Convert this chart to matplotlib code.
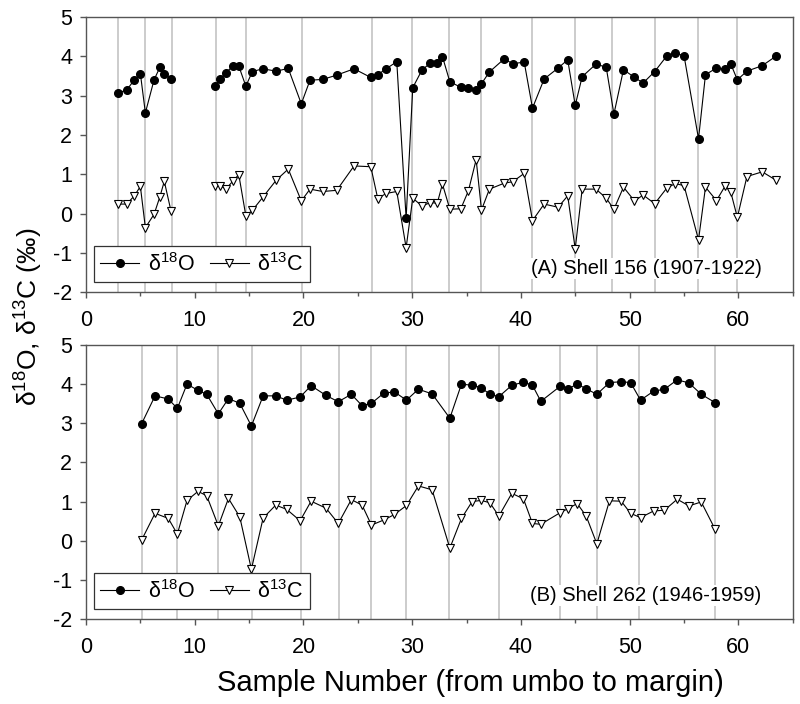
import numpy as np
import matplotlib
matplotlib.use("Agg")
import matplotlib.pyplot as plt

plt.rcParams['font.family'] = ['Liberation Sans', 'DejaVu Sans']
plt.rcParams['mathtext.fontset'] = 'custom'
plt.rcParams['mathtext.rm'] = 'Liberation Sans'
plt.rcParams['mathtext.it'] = 'Liberation Sans:italic'
plt.rcParams['mathtext.bf'] = 'Liberation Sans:bold'
plt.rcParams['axes.unicode_minus'] = False

nan = np.nan

# Shell 156 (panel A) - gap between samples 7.8 and 11.9
x156 = [2.97, 3.74, 4.45, 5.0, 5.46, 6.26, 6.8, 7.2, 7.82, nan,
        11.9, 12.33, 12.88, 13.5, 14.05, 14.7, 15.3, 16.25, 17.5, 18.6, 19.8,
        20.6, 21.77, 23.06, 24.65, 26.19, 26.83, 27.6, 28.58, 29.44, 30.05,
        30.9, 31.68, 32.3, 32.78, 33.46, 34.47, 35.17, 35.88, 36.37, 37.1,
        38.45, 39.25, 40.3, 41.06, 42.13, 43.42, 44.3, 44.99, 45.63, 46.9,
        47.84, 48.55, 49.43, 50.44, 51.24, 52.3, 53.42, 54.19, 55.0, 56.33,
        56.97, 57.98, 58.8, 59.3, 59.9, 60.78, 62.19, 63.5]
o18_156 = [3.07, 3.14, 3.40, 3.56, 2.56, 3.40, 3.72, 3.55, 3.42, nan,
           3.24, 3.42, 3.58, 3.75, 3.75, 3.24, 3.61, 3.68, 3.62, 3.69, 2.79,
           3.39, 3.41, 3.52, 3.68, 3.46, 3.53, 3.68, 3.86, -0.12, 3.20,
           3.65, 3.83, 3.83, 3.99, 3.35, 3.21, 3.19, 3.13, 3.30, 3.60,
           3.93, 3.81, 3.85, 2.68, 3.42, 3.70, 3.91, 2.75, 3.48, 3.80,
           3.72, 2.53, 3.66, 3.46, 3.32, 3.61, 4.01, 4.08, 4.01, 1.90,
           3.53, 3.70, 3.67, 3.80, 3.40, 3.62, 3.76, 4.01]
c13_156 = [0.24, 0.24, 0.45, 0.69, -0.36, -0.02, 0.43, 0.82, 0.06, nan,
           0.70, 0.70, 0.63, 0.82, 0.99, -0.06, 0.08, 0.41, 0.85, 1.13, 0.32,
           0.62, 0.56, 0.59, 1.21, 1.19, 0.38, 0.51, 0.56, -0.87, 0.39,
           0.19, 0.28, 0.26, 0.75, 0.11, 0.12, 0.58, 1.37, 0.09, 0.62,
           0.77, 0.81, 1.02, -0.18, 0.24, 0.16, 0.45, -0.90, 0.62, 0.62,
           0.39, 0.11, 0.67, 0.32, 0.47, 0.25, 0.65, 0.76, 0.71, -0.67,
           0.67, 0.33, 0.71, 0.54, -0.10, 0.94, 1.06, 0.84]
vlines156 = [2.97, 5.46, 7.88, 11.93, 14.72, 19.84, 26.34, 30.02, 33.42,
             36.34, 41.06, 45.0, 48.4, 52.3, 56.3, 59.9]

# Shell 262 (panel B)
x262 = [5.12, 6.35, 7.57, 8.4, 9.29, 10.3, 11.1, 12.17, 13.1, 14.14, 15.21,
        16.29, 17.45, 18.46, 19.69, 20.7, 22.08, 23.2, 24.4, 25.39, 26.25,
        27.39, 28.37, 29.47, 30.57, 31.83, 33.46, 34.53, 35.51, 36.34, 37.14,
        37.97, 39.16, 40.23, 41.06, 41.83, 43.63, 44.34, 45.17, 46.0, 46.98,
        48.14, 49.22, 50.08, 51.0, 52.2, 53.2, 54.37, 55.45, 56.58, 57.84]
o18_262 = [2.99, 3.70, 3.62, 3.38, 4.00, 3.84, 3.74, 3.24, 3.63, 3.51, 2.93,
           3.70, 3.70, 3.59, 3.67, 3.96, 3.71, 3.55, 3.74, 3.45, 3.51,
           3.77, 3.80, 3.59, 3.87, 3.75, 3.13, 4.00, 3.97, 3.91, 3.74,
           3.68, 3.97, 4.05, 3.97, 3.56, 3.95, 3.88, 4.00, 3.88, 3.74,
           4.04, 4.06, 4.04, 3.59, 3.82, 3.87, 4.11, 4.03, 3.74, 3.53]
c13_262 = [0.02, 0.70, 0.57, 0.17, 1.03, 1.26, 1.15, 0.38, 1.08, 0.61, -0.73,
           0.58, 0.91, 0.80, 0.51, 1.01, 0.83, 0.44, 1.05, 0.91, 0.40,
           0.53, 0.67, 0.90, 1.40, 1.30, -0.19, 0.57, 1.00, 1.03, 0.97,
           0.63, 1.21, 1.07, 0.44, 0.42, 0.72, 0.82, 0.95, 0.63, -0.08,
           1.02, 1.01, 0.70, 0.59, 0.76, 0.78, 1.06, 0.89, 0.99, 0.30]
vlines262 = [5.12, 8.40, 12.17, 15.24, 19.75, 23.28, 26.25, 29.47, 33.42,
             37.97, 43.63, 46.98, 50.90, 57.84]

panels = [
    (x156, o18_156, c13_156, vlines156, '(A) Shell 156 (1907-1922)'),
    (x262, o18_262, c13_262, vlines262, '(B) Shell 262 (1946-1959)'),
]

fig = plt.figure(figsize=(8, 7.04), dpi=100)
rects = [[0.1075, 0.585, 0.8835, 0.391], [0.1075, 0.1207, 0.8835, 0.3893]]
spine_col = '#555555'

for rect, (xs, o18, c13, vl, label) in zip(rects, panels):
    ax = fig.add_axes(rect)
    for v in vl:
        ax.axvline(v, color='#c4c4c4', lw=1.2, zorder=1)
    ax.plot(xs, o18, color='black', lw=0.8, marker='o', ms=5.5,
            mfc='black', mec='black', zorder=3, label='δ$^{18}$O')
    ax.plot(xs, c13, color='black', lw=0.8, marker='v', ms=6,
            mfc='white', mec='black', mew=0.8, zorder=3, label='δ$^{13}$C')
    ax.set_xlim(0, 65)
    ax.set_ylim(-2, 5)
    ax.set_xticks(np.arange(0, 61, 10))
    ax.set_xticks(np.arange(5, 66, 5), minor=True)
    ax.set_yticks(np.arange(-2, 6, 1))
    ax.tick_params(axis='both', which='both', direction='out', colors=spine_col,
                   labelcolor='black', labelsize=15.5, width=1)
    ax.tick_params(axis='both', which='major', length=4)
    ax.tick_params(axis='x', which='minor', length=3)
    ax.tick_params(axis='x', pad=9)
    ax.tick_params(axis='y', pad=6)
    for s in ax.spines.values():
        s.set_color(spine_col)
        s.set_linewidth(1)
    leg = ax.legend(loc='lower left', bbox_to_anchor=(0.011, 0.036),
                    borderaxespad=0, ncol=2, fontsize=15.5, frameon=True,
                    fancybox=False, framealpha=1, edgecolor='#333333',
                    handlelength=1.8, columnspacing=0.7, borderpad=0.3,
                    handletextpad=0.4)
    leg.get_frame().set_linewidth(0.9)
    leg.set_zorder(5)
    ax.text(0.956, 0.086, label, transform=ax.transAxes, ha='right',
            va='center', fontsize=14.5, zorder=4,
            bbox=dict(facecolor='white', edgecolor='none', pad=1))

fig.text(0.036, 0.55, 'δ$^{18}$O, δ$^{13}$C (‰)', rotation=90,
         ha='center', va='center', fontsize=19)
fig.text(0.5875, 0.03, 'Sample Number (from umbo to margin)', ha='center',
         va='center', fontsize=21)

fig.savefig('out.png', dpi=100)
